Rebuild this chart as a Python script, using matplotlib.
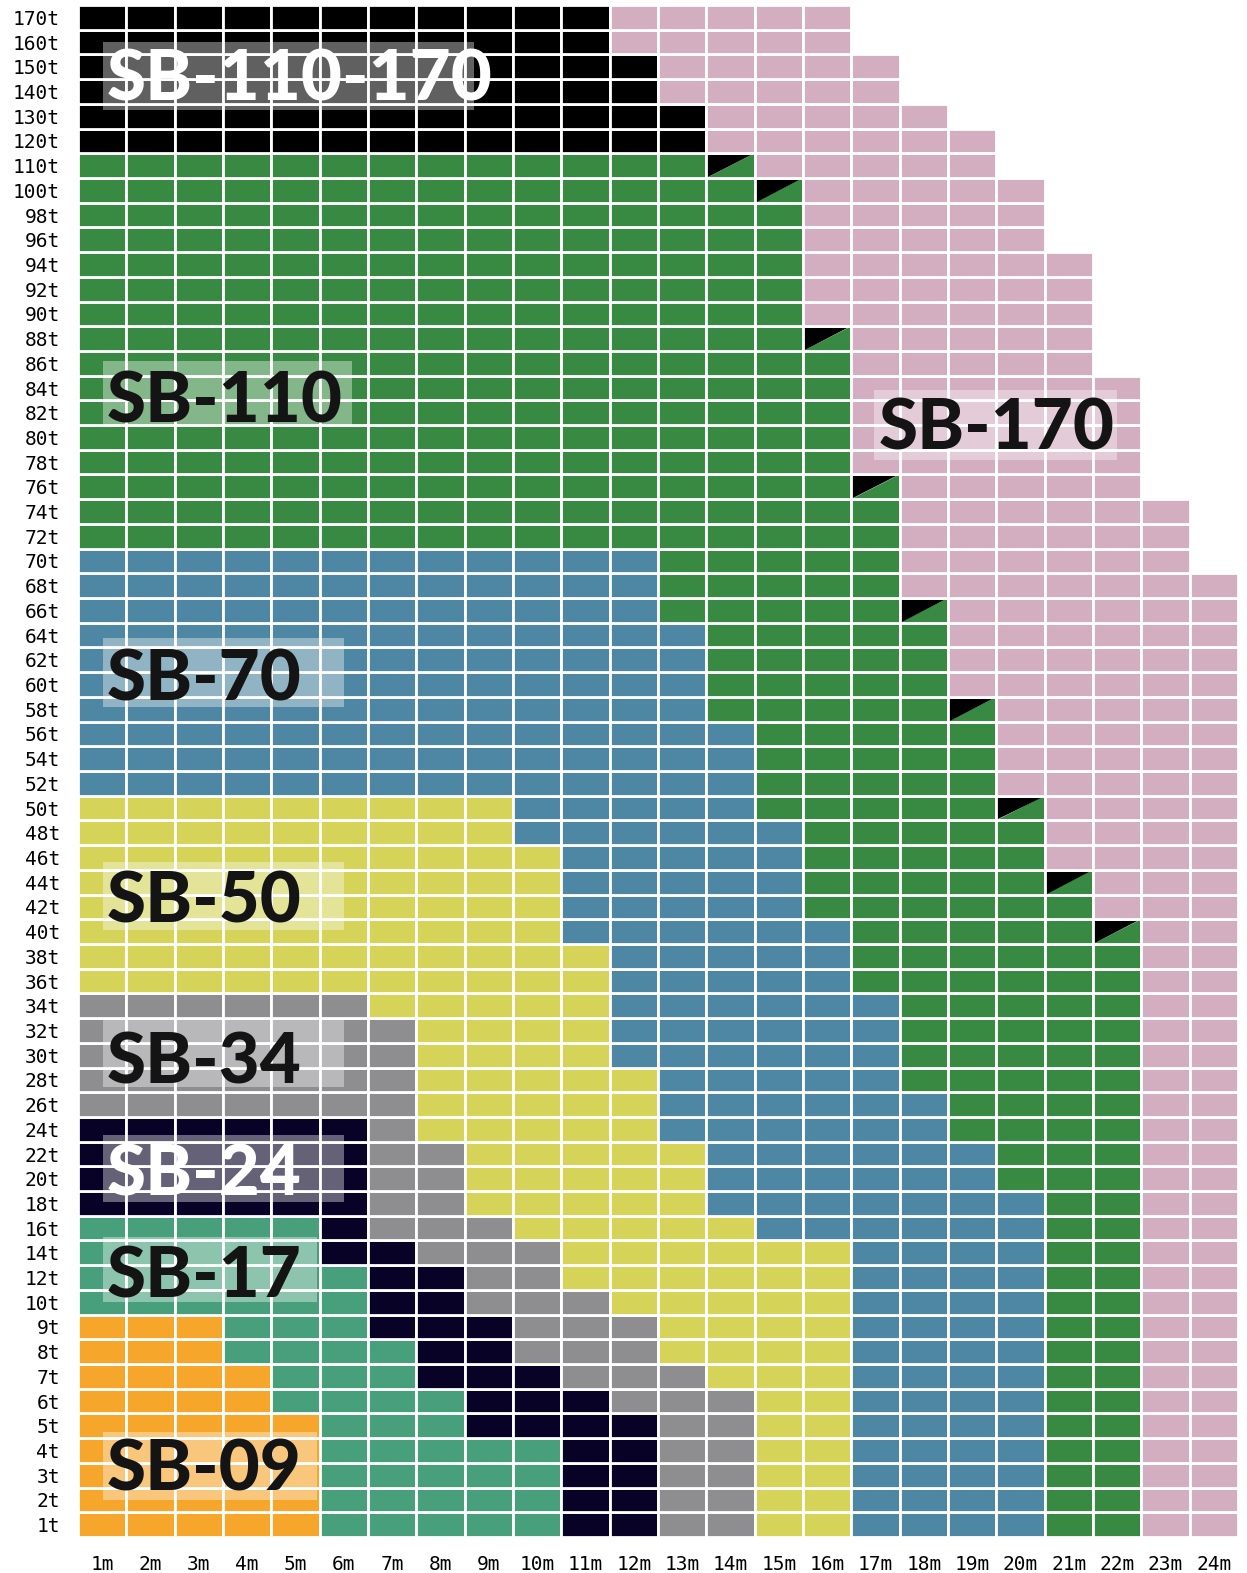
import numpy as np
import matplotlib.pyplot as plt
from matplotlib.patches import Rectangle, Polygon

# Tonnage classes (rows, bottom to top) and boom lengths (columns).
tonnage = ['1t', '2t', '3t', '4t', '5t', '6t', '7t', '8t', '9t', '10t',
           '12t', '14t', '16t', '18t', '20t', '22t', '24t', '26t', '28t', '30t',
           '32t', '34t', '36t', '38t', '40t', '42t', '44t', '46t', '48t', '50t',
           '52t', '54t', '56t', '58t', '60t', '62t', '64t', '66t', '68t', '70t',
           '72t', '74t', '76t', '78t', '80t', '82t', '84t', '86t', '88t', '90t',
           '92t', '94t', '96t', '98t', '100t', '110t', '120t', '130t', '140t',
           '150t', '160t', '170t']
reach = ['1m', '2m', '3m', '4m', '5m', '6m', '7m', '8m', '9m', '10m', '11m', '12m',
         '13m', '14m', '15m', '16m', '17m', '18m', '19m', '20m', '21m', '22m', '23m', '24m']

# Highest tonnage covered by each model per reach (None = not used there).
sb09 = ['9t', '9t', '9t', '7t', '5t'] + [None] * 19
sb17 = ['16t', '16t', '16t', '16t', '16t', '12t', '8t', '6t', '4t', '4t'] + [None] * 14
sb24 = ['24t'] * 6 + ['14t', '12t', '9t', '7t', '6t', '5t'] + [None] * 12
sb34 = ['34t'] * 6 + ['32t', '22t', '16t', '14t', '10t', '9t', '7t', '6t'] + [None] * 10
sb50 = ['50t'] * 9 + ['46t', '38t', '28t', '22t', '16t', '14t', '14t'] + [None] * 8
sb70 = ['70t'] * 12 + ['64t', '56t', '48t', '40t', '34t', '26t', '22t', '18t'] + [None] * 4
sb110 = ['110t'] * 13 + ['100t', '98t', '86t', '74t', '64t', '56t', '48t', '42t', '38t'] + [None] * 2
# cells shared between SB-110 and SB-110-170 (drawn split diagonally)
shared = [None] * 13 + ['110t', '100t', '88t', '76t', '66t', '58t', '50t', '44t', '40t'] + [None] * 2
sb110_170 = ['170t'] * 11 + ['150t', '130t'] + [None] * 11
sb170 = [None] * 11 + ['170t'] * 5 + ['150t', '130t', '120t', '100t', '94t', '84t', '74t', '68t']

colors = {
    'SB-09': '#f6a62b',
    'SB-17': '#47a07b',
    'SB-24': '#080326',
    'SB-34': '#8e8e90',
    'SB-50': '#d5d459',
    'SB-70': '#4e87a3',
    'SB-110': '#388a42',
    'shared': None,
    'SB-110-170': '#000000',
    'SB-170': '#d3aec1',
}
stack = [('SB-09', sb09), ('SB-17', sb17), ('SB-24', sb24), ('SB-34', sb34),
         ('SB-50', sb50), ('SB-70', sb70), ('SB-110', sb110), ('shared', shared),
         ('SB-110-170', sb110_170), ('SB-170', sb170)]

fig = plt.figure(figsize=(12.47, 15.73), dpi=100)
ax = fig.add_axes([78 / 1247, 36 / 1573, 1160 / 1247, 1532 / 1573])
ax.set_xlim(0, len(reach))
ax.set_ylim(0, len(tonnage))

for c in range(len(reach)):
    start = 0
    for name, tops in stack:
        if tops[c] is None:
            continue
        top = tonnage.index(tops[c])
        for r in range(start, top + 1):
            if name == 'shared':
                ax.add_patch(Polygon([(c, r), (c + 1, r + 1), (c + 1, r)],
                                     closed=True, facecolor=colors['SB-110'], edgecolor='none'))
                ax.add_patch(Polygon([(c, r), (c, r + 1), (c + 1, r + 1)],
                                     closed=True, facecolor=colors['SB-110-170'], edgecolor='none'))
                ax.add_patch(Rectangle((c, r), 1, 1, facecolor='none',
                                       edgecolor='white', linewidth=2))
            else:
                ax.add_patch(Rectangle((c, r), 1, 1, facecolor=colors[name],
                                       edgecolor='white', linewidth=2))
        start = top + 1

# model name tags: (text, box x0, x1, y0, y1, text x, baseline, text colour)
tags = [
    ('SB-110-170', 0.52, 8.2, 57.75, 60.5, 0.6, 58.15, 'white'),
    ('SB-110', 0.52, 5.67, 44.95, 47.6, 0.6, 45.12, '#141414'),
    ('SB-170', 16.47, 21.5, 43.6, 46.4, 16.57, 44.03, '#141414'),
    ('SB-70', 0.52, 5.5, 33.6, 36.4, 0.6, 33.87, '#141414'),
    ('SB-50', 0.52, 5.5, 24.55, 27.3, 0.6, 24.85, '#141414'),
    ('SB-34', 0.52, 5.5, 18.2, 20.95, 0.6, 18.37, '#141414'),
    ('SB-24', 0.52, 5.5, 13.55, 16.25, 0.6, 13.84, 'white'),
    ('SB-17', 0.52, 4.95, 9.5, 12.15, 0.6, 9.71, '#141414'),
    ('SB-09', 0.52, 4.95, 1.5, 4.25, 0.6, 1.9, '#141414'),
]
for text, x0, x1, y0, y1, tx, ty, tc in tags:
    ax.add_patch(Rectangle((x0, y0), x1 - x0, y1 - y0, facecolor='white',
                           alpha=0.38, edgecolor='none', zorder=3))
    ax.text(tx, ty, text, ha='left', va='baseline', fontsize=51,
            family='Lato', fontweight='black', color=tc, zorder=4)

ax.set_xticks(np.arange(len(reach)) + 0.5)
ax.set_xticklabels(reach, family='DejaVu Sans Mono', fontsize=14)
ax.set_yticks(np.arange(len(tonnage)) + 0.5)
ax.set_yticklabels(tonnage, family='DejaVu Sans Mono', fontsize=14)
ax.tick_params(length=0, pad=13)
for s in ax.spines.values():
    s.set_visible(False)

fig.savefig('out.png', dpi=100)
